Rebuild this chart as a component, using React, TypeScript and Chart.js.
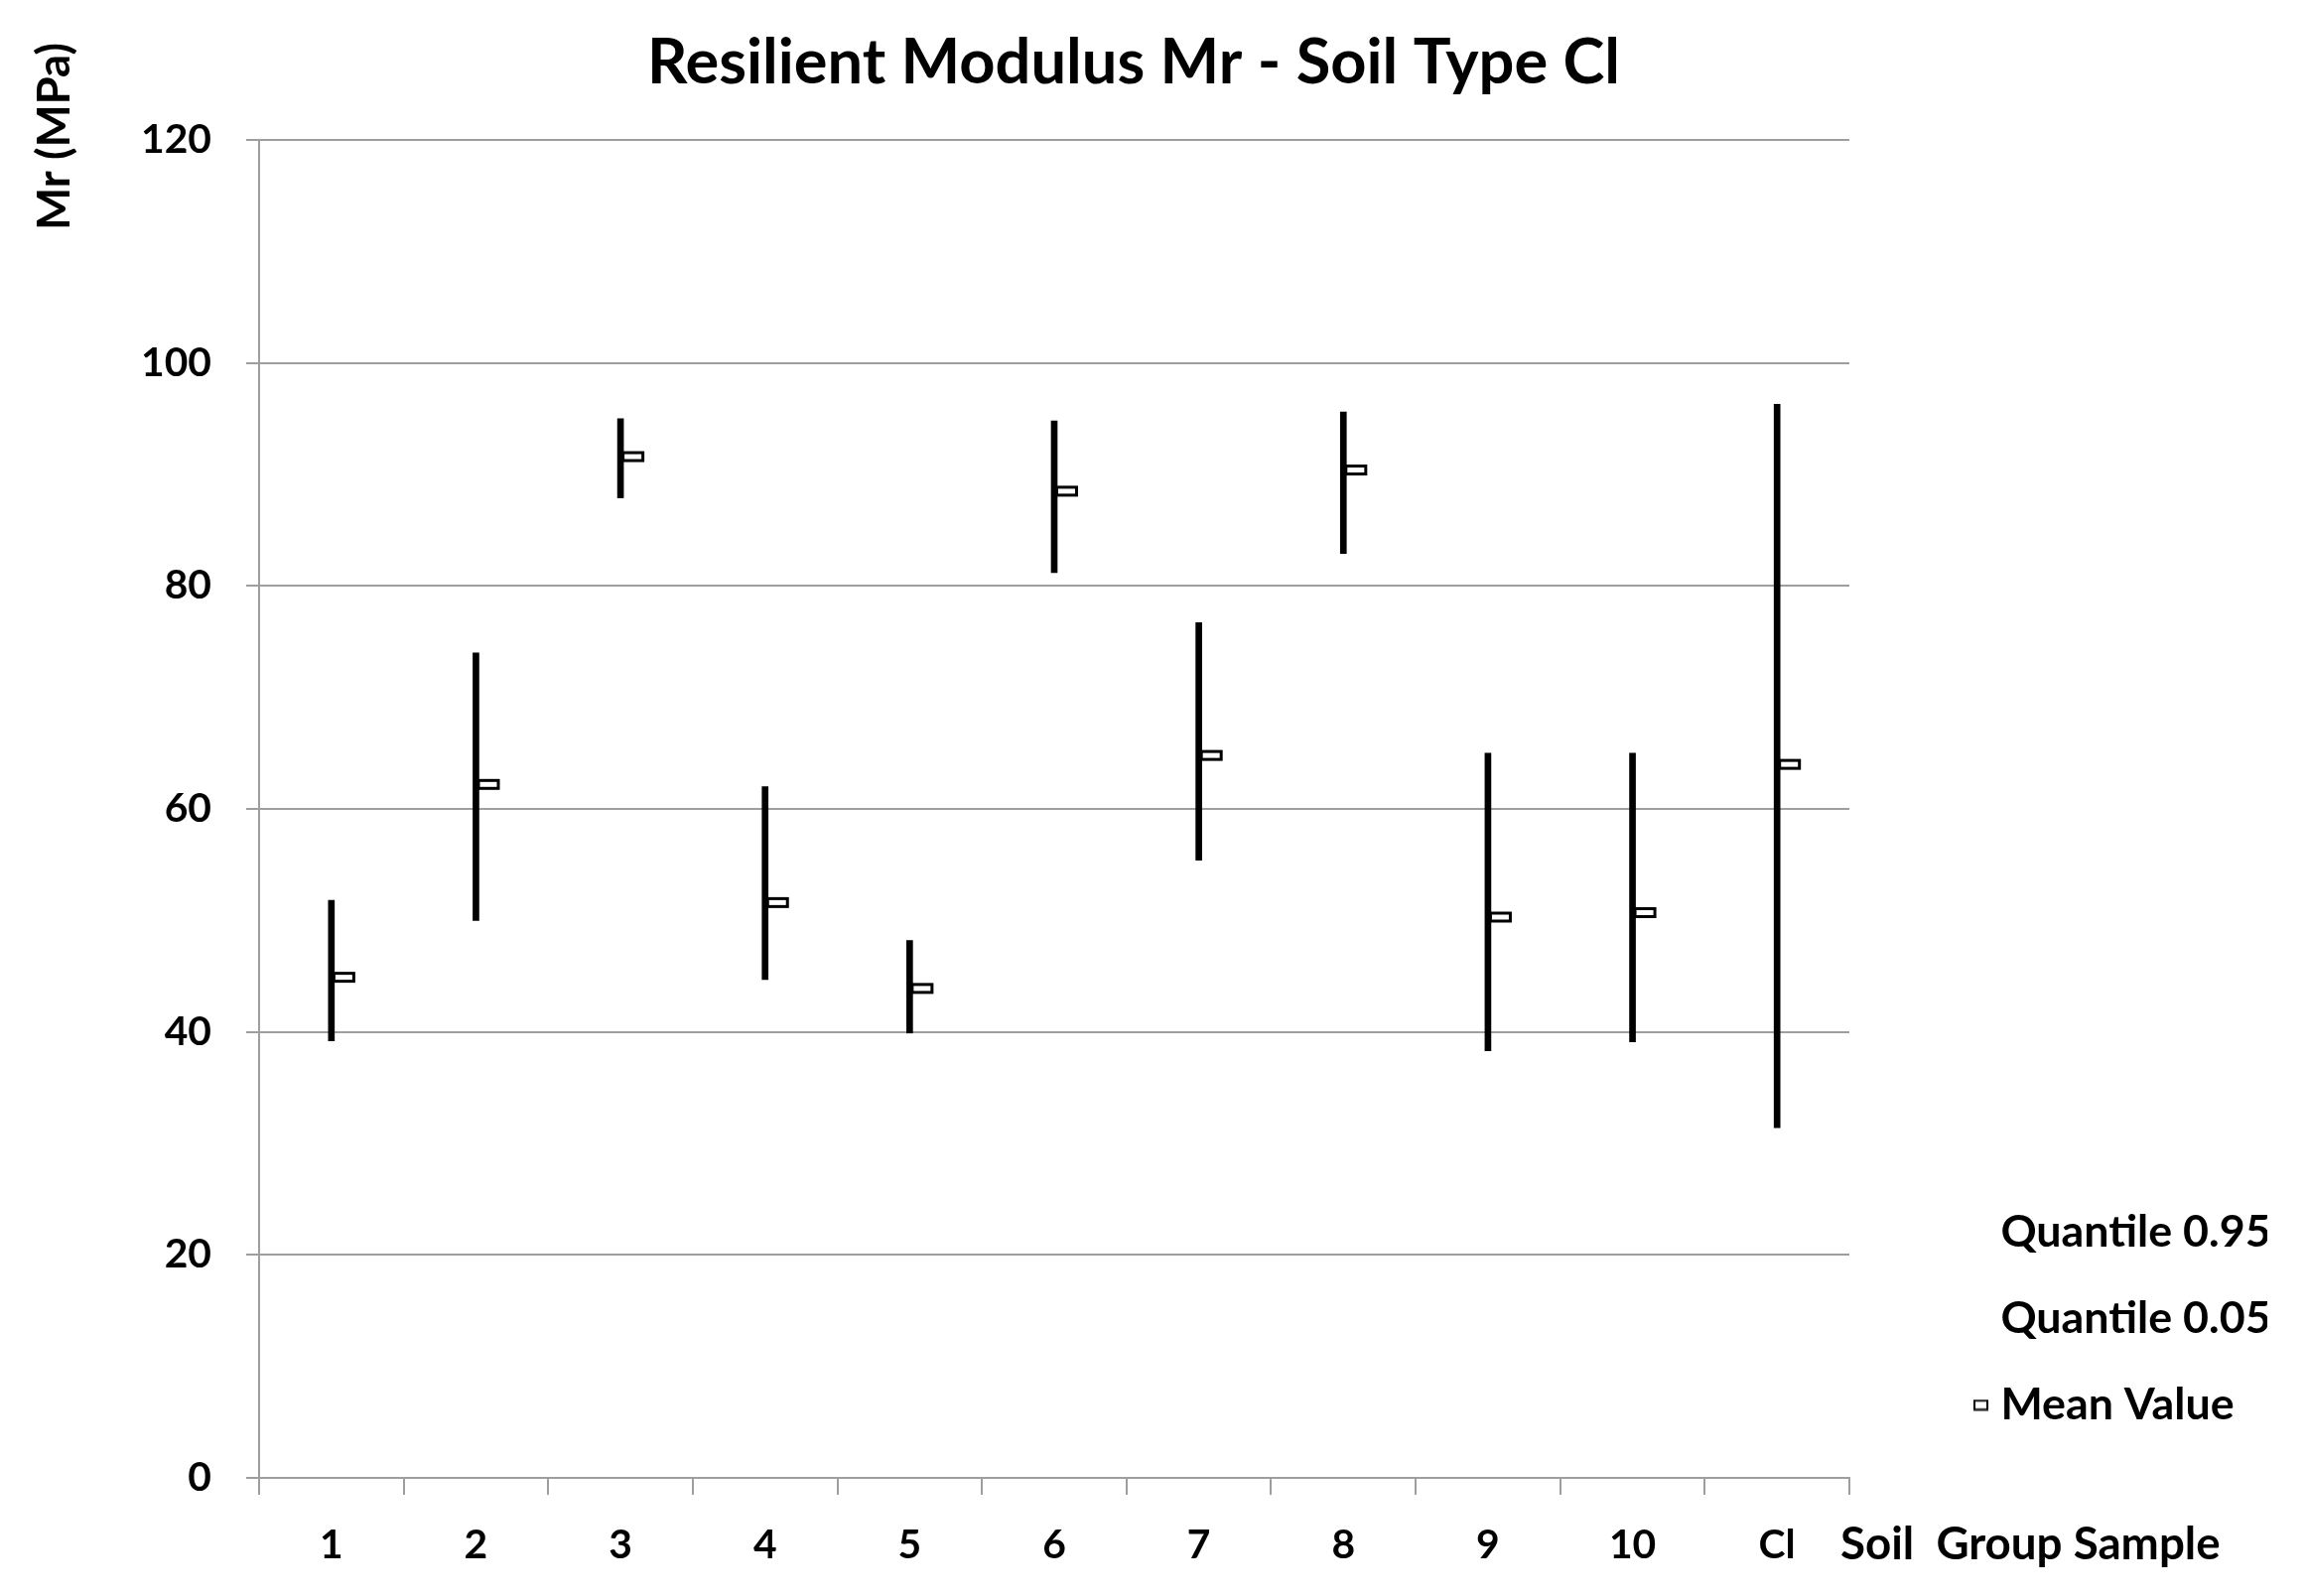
import React, { useEffect, useRef } from 'react';
import { Chart, registerables } from 'chart.js';

Chart.register(...registerables);

// ---------- data ----------
const CHART_TITLE = 'Resilient Modulus Mr - Soil Type Cl';
const Y_TITLE = 'Mr (MPa)';
const X_TITLE = 'Soil  Group Sample';
const categories = ['1', '2', '3', '4', '5', '6', '7', '8', '9', '10', 'Cl'];
const quantile95 = [51.8, 74.0, 95.0, 62.0, 48.2, 94.8, 76.7, 95.6, 65.0, 65.0, 96.3];
const quantile05 = [39.2, 50.0, 87.9, 44.7, 39.9, 81.2, 55.4, 82.9, 38.3, 39.1, 31.4];
const meanValues = [44.9, 62.2, 91.6, 51.6, 43.9, 88.5, 64.8, 90.4, 50.3, 50.7, 64.0];
const seriesNames = ['Quantile 0.95', 'Quantile 0.05', 'Mean Value'];
const yTickValues = [0, 20, 40, 60, 80, 100, 120];

const FONT = 'Lato';
const GRID = '#9e9e9e';

function fitSize(text: string, target: number): number {
  const g = document.createElement('canvas').getContext('2d')!;
  g.font = `bold 100px ${FONT}`;
  const w = g.measureText(text).width;
  return Math.round((1000 * target) / w) / 10;
}

function makeMeanMarker(): HTMLCanvasElement {
  const c = document.createElement('canvas');
  c.width = 50;
  c.height = 13;
  const g = c.getContext('2d')!;
  g.fillStyle = '#fff';
  g.fillRect(27.5, 2.5, 20, 8);
  g.strokeStyle = '#000';
  g.lineWidth = 3;
  g.strokeRect(27.5, 2.5, 20, 8);
  return c;
}

function makeLegendMarker(w: number): HTMLCanvasElement {
  const c = document.createElement('canvas');
  c.width = Math.max(16, Math.round(w));
  c.height = 12;
  const g = c.getContext('2d')!;
  const x0 = c.width - 14;
  g.fillStyle = '#fff';
  g.fillRect(x0, 1.5, 13, 9);
  g.strokeStyle = '#000';
  g.lineWidth = 2;
  g.strokeRect(x0, 1.5, 13, 9);
  return c;
}

function makeBlank(): HTMLCanvasElement {
  const c = document.createElement('canvas');
  c.width = 1;
  c.height = 1;
  return c;
}

const axisTitlesPlugin = {
  id: 'axisTitles',
  afterDraw(chart: any, _args: any, opts: any) {
    const { ctx, chartArea } = chart;
    ctx.save();
    ctx.fillStyle = '#000';
    ctx.font = `bold ${opts.ySize}px ${FONT}`;
    ctx.translate(chartArea.left - 206, chartArea.top - 3.5);
    ctx.rotate(-Math.PI / 2);
    ctx.textAlign = 'center';
    ctx.textBaseline = 'middle';
    ctx.fillText(Y_TITLE, 0, 0);
    ctx.restore();

    ctx.save();
    ctx.fillStyle = '#000';
    ctx.font = `bold ${opts.xSize}px ${FONT}`;
    ctx.textAlign = 'left';
    ctx.textBaseline = 'alphabetic';
    ctx.fillText(X_TITLE, chartArea.right - 9, chartArea.bottom + 82);
    ctx.restore();
  },
};

export default function App() {
  const ref = useRef<HTMLCanvasElement>(null);

  useEffect(() => {
    const canvas = ref.current;
    if (!canvas) return;
    Chart.defaults.font.family = FONT;

    const titleSize = fitSize(CHART_TITLE, 980);
    const tickSize = fitSize('120', 71);
    const yTitleSize = fitSize(Y_TITLE, 189);
    const xTitleSize = fitSize(X_TITLE, 383);
    const legendSize = fitSize('Quantile 0.95', 272);

    const P = Math.round(87 - legendSize);
    const B = Math.round(152 - P - legendSize / 2);
    const W = 2 * (140 - P - B / 2);
    // legend title spacer so the first entry sits where the reference has it
    const spacerFont = 10;
    const spacerH = 1242 - 141 - P - legendSize / 2;
    const spacerPad = Math.max(0, spacerH - spacerFont * 1.2);

    const meanImg = makeMeanMarker();
    const legendImg = makeLegendMarker(W);
    const blankImg = makeBlank();

    const tLine = titleSize * 1.2;
    const tMiddle = 88 - 0.387 * titleSize;
    const tTop = Math.max(0, tMiddle - tLine / 2);
    const tBottom = 141 - tLine - tTop;

    const chart = new Chart(canvas, {
      type: 'bar',
      data: {
        labels: categories,
        datasets: [
          {
            type: 'line',
            label: seriesNames[0],
            data: quantile95,
            showLine: false,
            pointRadius: 0,
            pointHoverRadius: 0,
            borderColor: '#000',
            backgroundColor: '#000',
          },
          {
            type: 'line',
            label: seriesNames[1],
            data: quantile05,
            showLine: false,
            pointRadius: 0,
            pointHoverRadius: 0,
            borderColor: '#000',
            backgroundColor: '#000',
          },
          {
            type: 'line',
            label: seriesNames[2],
            data: meanValues,
            showLine: false,
            pointStyle: meanImg,
            pointRadius: 6,
            pointHoverRadius: 6,
            borderWidth: 0,
          },
          {
            type: 'bar',
            label: 'range',
            data: quantile05.map((lo, i) => [lo, quantile95[i]]),
            backgroundColor: '#000',
            borderWidth: 0,
            barThickness: 6,
          },
        ] as any,
      },
      options: {
        animation: false,
        responsive: true,
        maintainAspectRatio: false,
        events: [],
        layout: { padding: { top: 0, left: 0, right: 40, bottom: 0 } },
        scales: {
          x: {
            ticks: {
              color: '#000',
              font: { size: tickSize, weight: 'bold', family: FONT },
              padding: 26,
              maxRotation: 0,
              autoSkip: false,
            },
            grid: {
              color: GRID,
              lineWidth: 2,
              tickLength: 17,
              drawOnChartArea: false,
              offset: true,
            },
            border: { color: GRID, width: 2 },
            afterFit: (s: any) => {
              s.height = 119;
            },
          },
          y: {
            min: 0,
            max: 120,
            ticks: {
              stepSize: 20,
              color: '#000',
              font: { size: tickSize, weight: 'bold', family: FONT },
              padding: 35,
            },
            afterBuildTicks: (s: any) => {
              s.ticks = yTickValues.map((v) => ({ value: v }));
            },
            grid: { color: GRID, lineWidth: 2, tickLength: 13 },
            border: { color: GRID, width: 2 },
            afterFit: (s: any) => {
              s.width = 261;
            },
          },
        },
        plugins: {
          title: {
            display: true,
            text: CHART_TITLE,
            color: '#000',
            font: { size: titleSize, weight: 'bold', family: FONT, lineHeight: 1.2 },
            padding: { top: tTop, bottom: tBottom },
          },
          legend: {
            display: true,
            position: 'right',
            align: 'start',
            fullSize: false,
            maxWidth: 421,
            title: {
              display: true,
              text: ' ',
              font: { size: spacerFont, family: FONT },
              padding: { top: spacerPad, bottom: 0 },
            },
            labels: {
              usePointStyle: true,
              pointStyleWidth: B,
              padding: P,
              color: '#000',
              font: { size: legendSize, weight: 'bold', family: FONT },
              generateLabels: (ch: any) => {
                const base = (Chart.defaults.plugins.legend.labels as any).generateLabels(ch);
                return base
                  .filter((it: any) => it.datasetIndex < 3)
                  .map((it: any) => ({
                    ...it,
                    pointStyle: it.datasetIndex === 2 ? legendImg : blankImg,
                    fontColor: '#000',
                    lineWidth: 0,
                    hidden: false,
                  }));
              },
            },
          },
          tooltip: { enabled: false },
          axisTitles: { ySize: yTitleSize, xSize: xTitleSize },
        } as any,
      },
      plugins: [axisTitlesPlugin],
    } as any);

    return () => chart.destroy();
  }, []);

  return (
    <div
      style={{
        position: 'fixed',
        left: 0,
        top: 0,
        width: 2324,
        height: 1608,
        background: '#fff',
      }}
    >
      <canvas ref={ref} />
    </div>
  );
}
